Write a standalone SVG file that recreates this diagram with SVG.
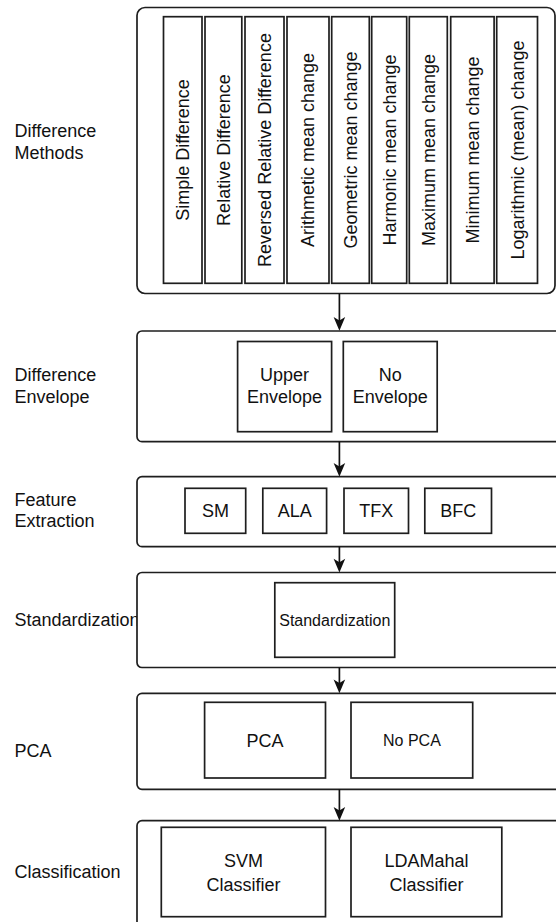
<svg xmlns="http://www.w3.org/2000/svg" width="556" height="922" viewBox="0 0 556 922">
<defs>
<style>
.box{fill:#fff;stroke:#1e1e1e;stroke-width:1.7}
.in{fill:#fff;stroke:#1e1e1e;stroke-width:1.7}
text{font-family:"Liberation Sans",Arial,sans-serif;fill:#111;font-size:18px}
.c{text-anchor:middle}
.s{font-size:16px}
.edge{stroke:#111;stroke-width:1.7;fill:none}
.head{fill:#111}
</style>
</defs>
<rect width="556" height="922" fill="#fff"/>

<g id="label-methods"><text x="14.5" y="137.3">Difference</text><text x="14.5" y="159">Methods</text></g>
<g id="label-envelope"><text x="14.5" y="381">Difference</text><text x="14.5" y="403">Envelope</text></g>
<g id="label-feature"><text x="14.5" y="505.5">Feature</text><text x="14.5" y="527">Extraction</text></g>
<g id="label-standardization"><text x="14.5" y="626">Standardization</text></g>
<g id="label-pca"><text x="14.5" y="757">PCA</text></g>
<g id="label-classification"><text x="14.5" y="877.5">Classification</text></g>

<g id="difference-methods">
<rect class="box" x="137" y="7.5" width="418" height="286" rx="8"/>
<rect class="in" x="163.5" y="16.7" width="38.5" height="266.6"/>
<rect class="in" x="205" y="16.7" width="36.8" height="266.6"/>
<rect class="in" x="245" y="16.7" width="39" height="266.6"/>
<rect class="in" x="287" y="16.7" width="42" height="266.6"/>
<rect class="in" x="331.7" y="16.7" width="37.6" height="266.6"/>
<rect class="in" x="371.7" y="16.7" width="35" height="266.6"/>
<rect class="in" x="409.3" y="16.7" width="38" height="266.6"/>
<rect class="in" x="450.7" y="16.7" width="43.4" height="266.6"/>
<rect class="in" x="496.7" y="16.7" width="40.8" height="266.6"/>
<text class="c" transform="translate(189.2,150) rotate(-90)">Simple Difference</text>
<text class="c" transform="translate(229.8,150) rotate(-90)">Relative Difference</text>
<text class="c" transform="translate(270.9,150) rotate(-90)">Reversed Relative Difference</text>
<text class="c" transform="translate(314.4,150) rotate(-90)">Arithmetic mean change</text>
<text class="c" transform="translate(356.9,150) rotate(-90)">Geometric mean change</text>
<text class="c" transform="translate(395.6,150) rotate(-90)">Harmonic mean change</text>
<text class="c" transform="translate(434.7,150) rotate(-90)">Maximum mean change</text>
<text class="c" transform="translate(478.8,150) rotate(-90)">Minimum mean change</text>
<text class="c" transform="translate(523.5,150) rotate(-90)">Logarithmic (mean) change</text>
</g>

<g id="difference-envelope">
<rect class="box" x="137" y="331" width="440" height="110.7" rx="5"/>
<rect class="in" x="237.6" y="341.5" width="94" height="90.2"/>
<text class="c" x="284.6" y="381">Upper</text><text class="c" x="284.6" y="403">Envelope</text>
<rect class="in" x="343.3" y="341.5" width="93.9" height="90.2"/>
<text class="c" x="390.2" y="381">No</text><text class="c" x="390.2" y="403">Envelope</text>
</g>

<g id="feature-extraction">
<rect class="box" x="137" y="476.7" width="440" height="70" rx="5"/>
<rect class="in" x="185" y="488.3" width="60.7" height="45"/>
<text class="c" x="215.4" y="517">SM</text>
<rect class="in" x="262.8" y="488.3" width="63.8" height="45"/>
<text class="c" x="294.7" y="517">ALA</text>
<rect class="in" x="344" y="488.3" width="64.5" height="45"/>
<text class="c" x="376.3" y="517">TFX</text>
<rect class="in" x="424.8" y="488.3" width="66.7" height="45"/>
<text class="c" x="458.2" y="517">BFC</text>
</g>

<g id="standardization">
<rect class="box" x="137" y="572.5" width="440" height="95" rx="5"/>
<rect class="in" x="274.8" y="582.7" width="119.9" height="74.6"/>
<text class="c s" x="334.8" y="625.7">Standardization</text>
</g>

<g id="pca">
<rect class="box" x="137" y="693.3" width="440" height="96" rx="5"/>
<rect class="in" x="204.6" y="702.3" width="120.9" height="75.7"/>
<text class="c" x="265" y="746.5">PCA</text>
<rect class="in" x="351" y="702.3" width="121.7" height="75.7"/>
<text class="c s" x="411.9" y="746">No PCA</text>
</g>

<g id="classification">
<rect class="box" x="137" y="820.7" width="440" height="110" rx="5"/>
<rect class="in" x="161.3" y="827.3" width="164.2" height="89.4"/>
<text class="c" x="243.4" y="867.3">SVM</text><text class="c" x="243.4" y="890.7">Classifier</text>
<rect class="in" x="351" y="827.3" width="150.8" height="89.4"/>
<text class="c" x="426.4" y="867.3">LDAMahal</text><text class="c" x="426.4" y="890.7">Classifier</text>
</g>

<g id="connectors">
<line class="edge" x1="339.4" y1="293.5" x2="339.4" y2="322"/>
<path class="head" d="M339.4,330.7 L333.6,317 L339.4,320.5 L345.2,317 Z"/>
<line class="edge" x1="339.4" y1="441.7" x2="339.4" y2="468"/>
<path class="head" d="M339.4,476.7 L333.6,463 L339.4,466.5 L345.2,463 Z"/>
<line class="edge" x1="339.4" y1="546.7" x2="339.4" y2="564"/>
<path class="head" d="M339.4,572.5 L333.6,558.8 L339.4,562.3 L345.2,558.8 Z"/>
<line class="edge" x1="339.4" y1="667.5" x2="339.4" y2="685"/>
<path class="head" d="M339.4,693.3 L333.6,679.6 L339.4,683.1 L345.2,679.6 Z"/>
<line class="edge" x1="339.4" y1="789.3" x2="339.4" y2="812"/>
<path class="head" d="M339.4,820.7 L333.6,807 L339.4,810.5 L345.2,807 Z"/>
</g>
</svg>
